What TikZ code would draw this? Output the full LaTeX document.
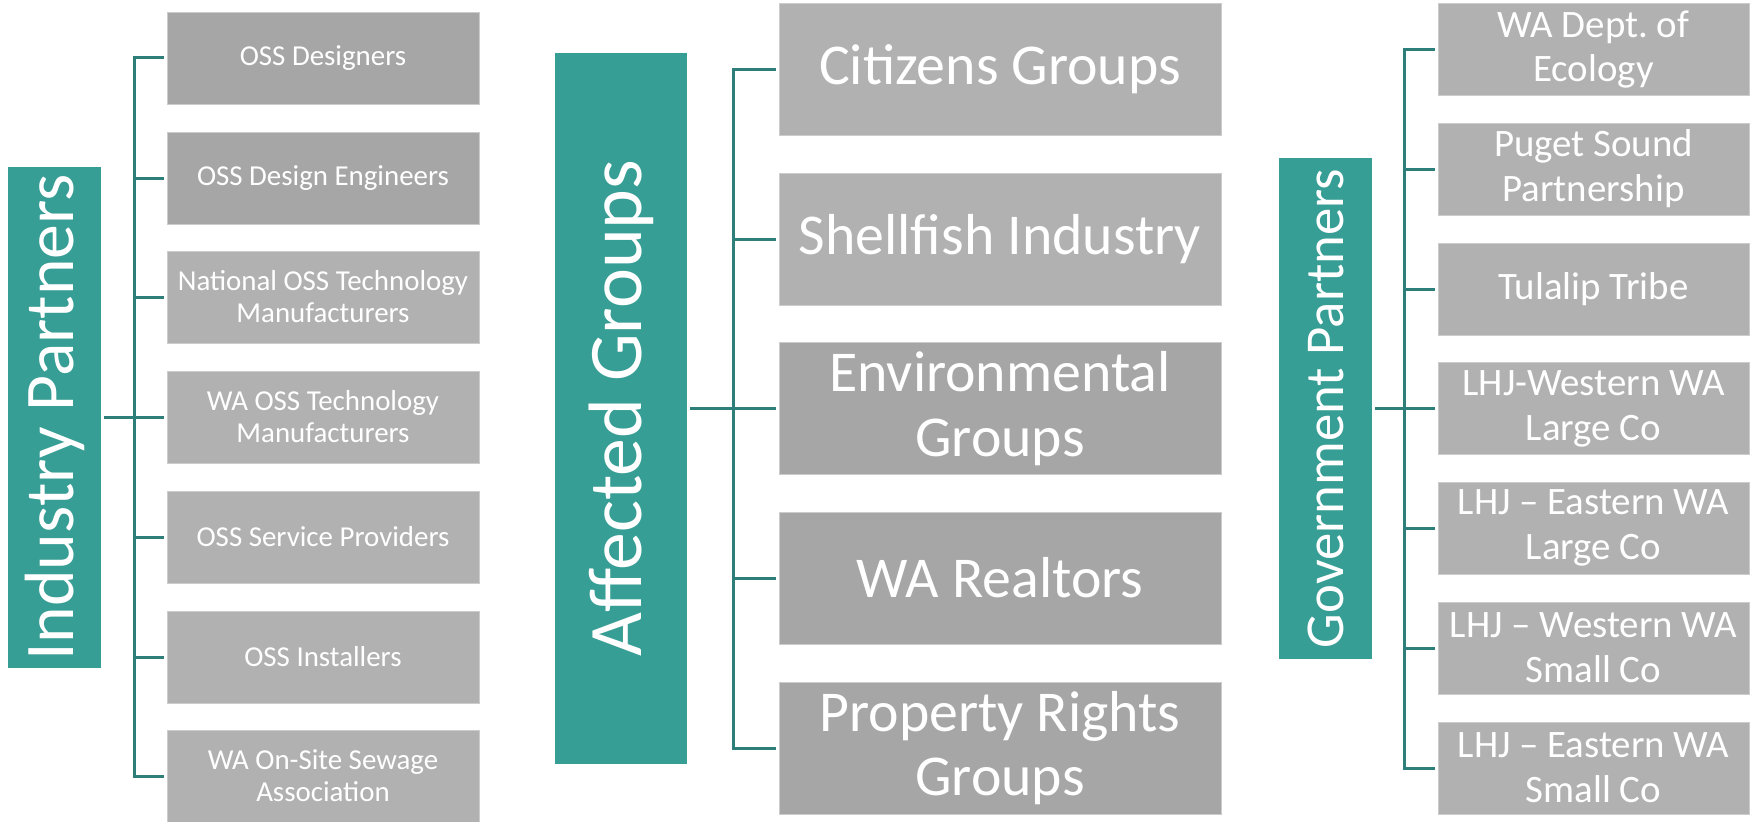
\documentclass[tikz,border=0pt]{standalone}
\usepackage{fontspec}
\setmainfont{Carlito}
\frenchspacing
\definecolor{tealbar}{HTML}{379E95}
\definecolor{tealline}{HTML}{2E7F79}
\definecolor{grayA}{HTML}{A6A6A6}
\definecolor{grayB}{HTML}{B1B1B1}
\begin{document}
\begin{tikzpicture}[x=1bp,y=-1bp,
  bar/.style={fill=tealbar, text=white, rotate=90, inner sep=0pt, draw=none},
  box/.style={fill=#1, draw=gray!40, line width=0.8bp, text=white, align=center, inner sep=0pt},
  lbox/.style={box=#1, minimum width=312bp, minimum height=92bp, font=\fontsize{29}{32}\selectfont},
  mbox/.style={box=#1, minimum width=442bp, minimum height=132bp, font=\fontsize{58}{65}\selectfont},
  rbox/.style={box=#1, minimum width=311bp, minimum height=92bp, font=\fontsize{39}{45}\selectfont},
  conn/.style={draw=tealline, line width=3bp},
  busline/.style={conn, line cap=rect},
]
\useasboundingbox[fill=white] (0,0) rectangle (1758,822);

% ---------- Industry Partners ----------
\node[bar, minimum width=501bp, minimum height=93bp, font=\fontsize{70}{84}\selectfont] (ind) at (54.5,417.5) {Industry Partners};
\node[lbox=grayA] (L1) at (323,58)  {OSS Designers};
\node[lbox=grayA] (L2) at (323,178) {OSS Design Engineers};
\node[lbox=grayB] (L3) at (323,297) {National OSS Technology\\Manufacturers};
\node[lbox=grayB] (L4) at (323,417) {WA OSS Technology\\Manufacturers};
\node[lbox=grayB] (L5) at (323,537) {OSS Service Providers};
\node[lbox=grayB] (L6) at (323,657) {OSS Installers};
\node[lbox=grayB] (L7) at (323,776) {WA On-Site Sewage\\Association};
\coordinate (busL) at (134,417.5);
\draw[busline] (L1.west -| busL) -- (L7.west -| busL);
\foreach \n in {1,...,7} \draw[conn, shorten >=3bp] (L\n.west -| busL) -- (L\n.west);
\draw[conn, shorten <=3bp] (ind.south) -- (ind.south -| busL);

% ---------- Affected Groups ----------
\node[bar, minimum width=711bp, minimum height=132bp, font=\fontsize{76}{90}\selectfont] (aff) at (621,408.5) {Affected Groups};
\node[mbox=grayB] (M1) at (1000,69.5)  {Citizens Groups};
\node[mbox=grayB] (M2) at (1000,239)   {Shellfish Industry};
\node[mbox=grayA] (M3) at (1000,408.5) {Environmental\\Groups};
\node[mbox=grayA] (M4) at (1000,578)   {WA Realtors};
\node[mbox=grayA] (M5) at (1000,748)   {Property Rights\\Groups};
\coordinate (busM) at (733,408.5);
\draw[busline] (M1.west -| busM) -- (M5.west -| busM);
\foreach \n in {1,...,5} \draw[conn, shorten >=3bp] (M\n.west -| busM) -- (M\n.west);
\draw[conn, shorten <=3bp] (aff.south) -- (aff.south -| busM);

% ---------- Government Partners ----------
\node[bar, minimum width=501bp, minimum height=93bp, font=\fontsize{55}{66}\selectfont] (gov) at (1325.5,408.5) {Government Partners};
\node[rbox=grayB] (R1) at (1593.5,49.5)  {WA Dept. of\\Ecology};
\node[rbox=grayB] (R2) at (1593.5,169)   {Puget Sound\\Partnership};
\node[rbox=grayB] (R3) at (1593.5,289)   {Tulalip Tribe};
\node[rbox=grayB] (R4) at (1593.5,408.5) {LHJ-Western WA\\Large Co};
\node[rbox=grayB] (R5) at (1593.5,528)   {LHJ -- Eastern WA\\Large Co};
\node[rbox=grayB] (R6) at (1593.5,648)   {LHJ -- Western WA\\Small Co};
\node[rbox=grayB] (R7) at (1593.5,768)   {LHJ -- Eastern WA\\Small Co};
\coordinate (busR) at (1404.5,408.5);
\draw[busline] (R1.west -| busR) -- (R7.west -| busR);
\foreach \n in {1,...,7} \draw[conn, shorten >=3bp] (R\n.west -| busR) -- (R\n.west);
\draw[conn, shorten <=3bp] (gov.south) -- (gov.south -| busR);
\end{tikzpicture}
\end{document}
